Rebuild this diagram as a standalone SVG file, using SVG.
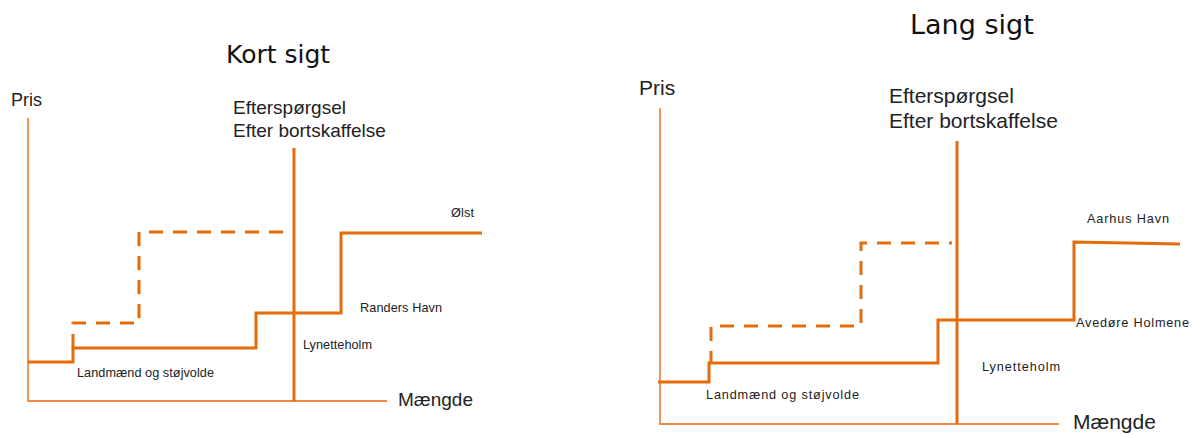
<svg xmlns="http://www.w3.org/2000/svg" width="1193" height="435" viewBox="0 0 1193 435">
  <style>
    .axis { fill: none; stroke: #EE8A45; stroke-width: 1.8; }
    .step { fill: none; stroke: #E46C0A; stroke-width: 3; stroke-linejoin: miter; }
    .dash { fill: none; stroke: #E46C0A; stroke-width: 3; stroke-dasharray: 14 10; }
    .demand { fill: none; stroke: #E46C0A; stroke-width: 3; }
    .title { font-family: "DejaVu Sans", Verdana, sans-serif; fill: #111; }
    .lbl { font-family: "Liberation Sans", Arial, sans-serif; fill: #222; }
    .small { font-family: "Liberation Sans", Arial, sans-serif; fill: #222; font-size: 12.7px; }
  </style>
  <rect width="1193" height="435" fill="#ffffff"/>

  <!-- Short-run chart -->
  <g id="short-run">
    <text class="title" x="226" y="63" font-size="25">Kort sigt</text>
    <g id="short-axes">
      <path class="axis" d="M28,118 V401 H387"/>
      <text class="lbl" x="11" y="106" font-size="18">Pris</text>
      <text class="lbl" x="398" y="406" font-size="19">Mængde</text>
    </g>
    <g id="short-demand">
      <path class="demand" d="M294,148 V401"/>
      <text class="lbl" x="233" y="114" font-size="19">Efterspørgsel</text>
      <text class="lbl" x="233" y="137" font-size="19">Efter bortskaffelse</text>
    </g>
    <g id="short-supply">
      <path class="dash" d="M73,348 V323 H139 V232 H288"/>
      <path class="step" d="M28,362 H73 V348 H256 V313 H341 V233 H482"/>
    </g>
    <g id="short-labels">
      <text class="small" x="451" y="217" textLength="23" lengthAdjust="spacing">Ølst</text>
      <text class="small" x="360" y="312" textLength="82" lengthAdjust="spacing">Randers Havn</text>
      <text class="small" x="303" y="349" textLength="69" lengthAdjust="spacing">Lynetteholm</text>
      <text class="small" x="77" y="377" textLength="137" lengthAdjust="spacing">Landmænd og støjvolde</text>
    </g>
  </g>

  <!-- Long-run chart -->
  <g id="long-run">
    <text class="title" x="910" y="34" font-size="27">Lang sigt</text>
    <g id="long-axes">
      <path class="axis" d="M660,108 V424 H1059"/>
      <text class="lbl" x="639" y="95" font-size="21">Pris</text>
      <text class="lbl" x="1073" y="429" font-size="21">Mængde</text>
    </g>
    <g id="long-demand">
      <path class="demand" d="M957,141 V424"/>
      <text class="lbl" x="889" y="103" font-size="21">Efterspørgsel</text>
      <text class="lbl" x="889" y="128" font-size="21">Efter bortskaffelse</text>
    </g>
    <g id="long-supply">
      <path class="dash" d="M711,363 V326 H861 V243 H952" stroke-dasharray="14 11" stroke-dashoffset="2"/>
      <path class="step" d="M658,382 H709 V363 H938 V320 H1074 V242 L1180,244"/>
    </g>
    <g id="long-labels">
      <text class="small" x="1087" y="223" font-size="14" textLength="82" lengthAdjust="spacing">Aarhus Havn</text>
      <text class="small" x="1076" y="327" font-size="14" textLength="113" lengthAdjust="spacing">Avedøre Holmene</text>
      <text class="small" x="982" y="371" font-size="14" textLength="78" lengthAdjust="spacing">Lynetteholm</text>
      <text class="small" x="706" y="399" font-size="14" textLength="153" lengthAdjust="spacing">Landmænd og støjvolde</text>
    </g>
  </g>
</svg>
